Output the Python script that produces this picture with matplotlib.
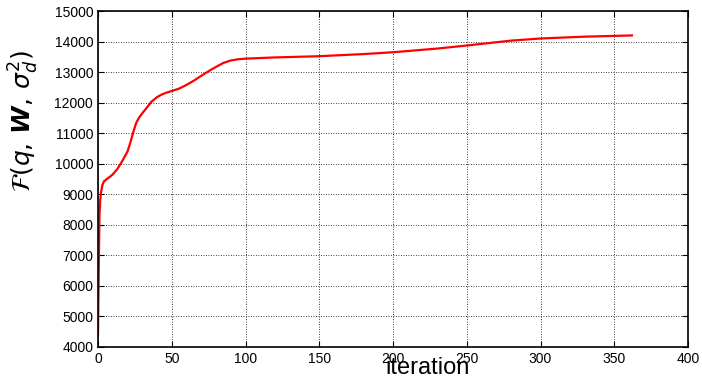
import numpy as np
import matplotlib.pyplot as plt

plt.rcParams['font.family'] = ['Liberation Sans', 'DejaVu Sans']
plt.rcParams['mathtext.fontset'] = 'dejavusans'

iteration = [0, 0.5, 1, 1.5, 2, 3, 4, 6, 8, 10, 13, 16, 20, 22, 24, 26, 28, 30, 33, 36, 40, 43, 46,
             50, 55, 60, 65, 70, 75, 80, 85, 90, 95, 100, 120, 150, 180, 200, 230, 250, 265, 280,
             300, 330, 362]
objective = [4400, 6500, 8300, 8800, 9050, 9300, 9420, 9500, 9570, 9650, 9820, 10050, 10400,
             10700, 11050, 11350, 11520, 11650, 11830, 12020, 12180, 12260, 12320,
             12380, 12460, 12580, 12720, 12880, 13030, 13170, 13300, 13380, 13420, 13440,
             13480, 13520, 13590, 13650, 13770, 13870, 13950, 14030, 14100, 14160, 14200]

fig = plt.figure(figsize=(7.02, 3.78), dpi=100)
ax = fig.add_axes([98/702, 1-347/378, 590/702, 336/378])

ax.plot(iteration, objective, color='red', lw=1.6)

ax.set_xlim(0, 400)
ax.set_ylim(4000, 15000)
ax.set_xticks(np.arange(0, 401, 50))
ax.set_yticks(np.arange(4000, 15001, 1000))
ax.grid(True, color='black', linestyle=(0, (1, 2)), lw=0.6)
ax.tick_params(direction='in', top=True, right=True, labelsize=10, length=4)
for s in ax.spines.values():
    s.set_linewidth(1.2)

fig.text(24/702, 1-121/378, r'$\mathcal{F}(q,\,\boldsymbol{W},\,\sigma_d^2)$', fontsize=18,
         rotation=90, ha='center', va='center')
fig.text(428/702, 1-368/378, 'iteration', fontsize=17, ha='center', va='center')

fig.savefig('out.png', dpi=100)
